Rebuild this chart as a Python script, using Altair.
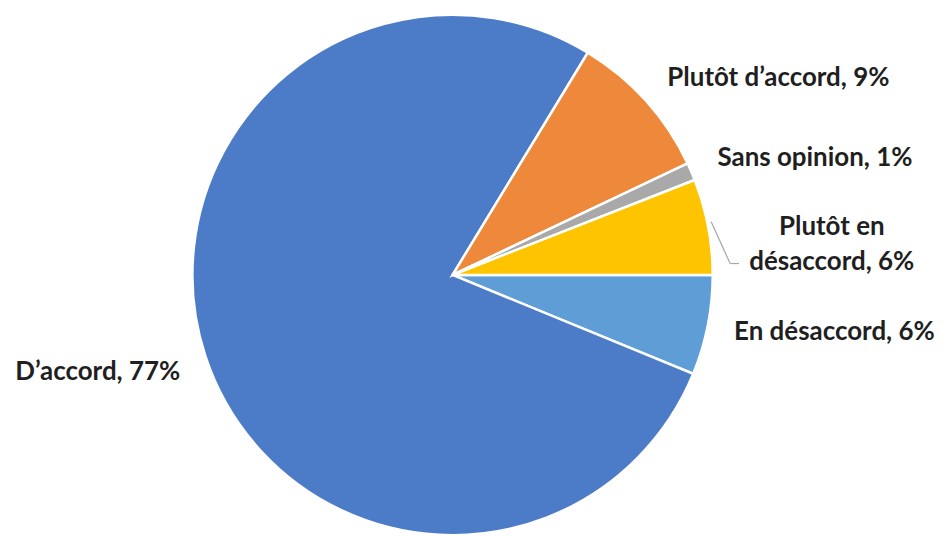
import math
import altair as alt
import pandas as pd

# ---- data ----
categories = ["En désaccord", "D’accord", "Plutôt d’accord", "Sans opinion", "Plutôt en désaccord"]
values = [6.2, 77.5, 9.25, 1.1, 5.95]
order = [1, 2, 3, 4, 5]
labels = ["En désaccord, 6%", "D’accord, 77%", "Plutôt d’accord, 9%", "Sans opinion, 1%", "Plutôt en\ndésaccord, 6%"]
colors = ["#5F9DD7", "#4C7CC8", "#EE883A", "#A9A9A9", "#FFC400"]

df = pd.DataFrame({"cat": categories, "value": values, "order": order, "label": labels})

# ---- layout ----
CX, CY, R = 446, 267, 261
START = math.pi / 2
label_offsets = {
    "En désaccord": (127, 7),
    "D’accord": (-108, 16),
    "Plutôt d’accord": (133, -23),
    "Sans opinion": (124, -14),
    "Plutôt en désaccord": (124, 0),
}

pie = alt.Chart(df).mark_arc(stroke="white", strokeWidth=2.5, radius=R).encode(
    theta=alt.Theta("value:Q", stack=True,
                    scale=alt.Scale(range=[START, START + 2 * math.pi])),
    color=alt.Color("cat:N", scale=alt.Scale(domain=categories, range=colors), legend=None),
    order=alt.Order("order:Q"),
    x=alt.value(CX),
    y=alt.value(CY),
)

base = (
    alt.Chart(df)
    .transform_joinaggregate(total="sum(value)")
    .transform_window(cum="sum(value)", sort=[alt.SortField("order")], frame=[None, 0])
    .transform_calculate(mid=f"{START} + 2*PI*(datum.cum - datum.value/2)/datum.total")
)

texts = []
for cat, (dx, dy) in label_offsets.items():
    texts.append(
        base.transform_filter(alt.datum.cat == cat)
        .mark_text(radius=R, dx=dx, dy=dy, font="Lato", fontSize=26, fontWeight="bold",
                   color="#1f1f1f", align="center", baseline="middle",
                   lineBreak="\n", lineHeight=35)
        .encode(theta=alt.Theta("mid:Q", scale=None), text="label:N",
                x=alt.value(CX), y=alt.value(CY))
    )

leader_base = (
    base.transform_filter(alt.datum.cat == "Plutôt en désaccord")
    .transform_calculate(
        lx=f"{CX} + {R}*sin(datum.mid)",
        ly=f"{CY} - {R}*cos(datum.mid)",
    )
    .transform_calculate(lx="datum.lx + 3", ly="datum.ly - 5")
    .transform_calculate(lx2="datum.lx + 19", ly2="datum.ly + 42", lx3="datum.lx + 28")
)
leader1 = leader_base.mark_rule(color="#A6A6A6", strokeWidth=1.2).encode(
    x=alt.X("lx:Q", scale=None, axis=None), y=alt.Y("ly:Q", scale=None, axis=None),
    x2="lx2:Q", y2="ly2:Q")
leader2 = leader_base.mark_rule(color="#A6A6A6", strokeWidth=1.2).encode(
    x=alt.X("lx2:Q", scale=None, axis=None), y=alt.Y("ly2:Q", scale=None, axis=None),
    x2="lx3:Q", y2="ly2:Q")

chart = (
    alt.layer(pie, leader1, leader2, *texts)
    .properties(width=927, height=520, padding=0)
    .configure_view(stroke=None)
)

chart.save("out.html", embed_options={"renderer": "svg", "actions": False})
